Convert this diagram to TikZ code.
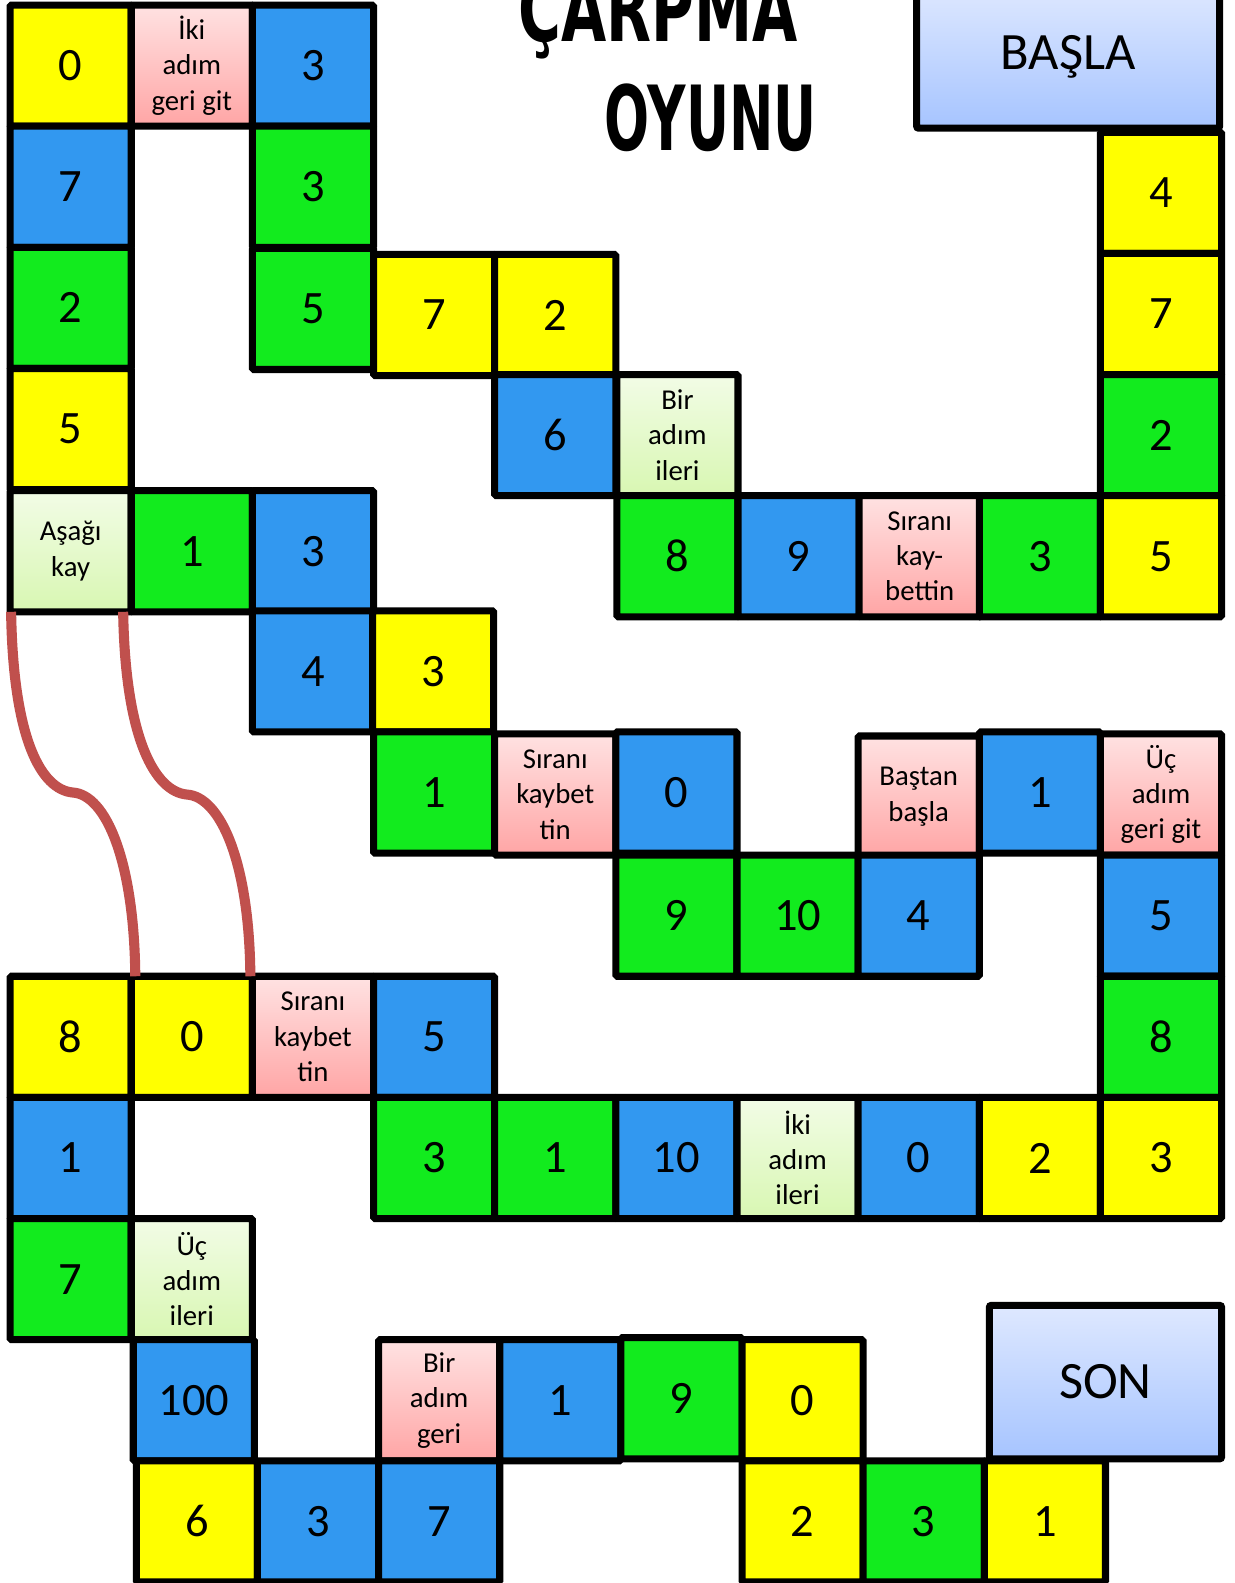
\documentclass[tikz,border=0pt]{standalone}
\usepackage{fontspec}
\usepackage{graphicx}
\setmainfont{Carlito}
\newfontfamily\titlefont{DejaVu Sans}
\definecolor{cY}{RGB}{255,255,0}
\definecolor{cG}{RGB}{18,235,30}
\definecolor{cB}{RGB}{50,152,240}
\definecolor{pkT}{RGB}{255,226,226}
\definecolor{pkB}{RGB}{255,165,165}
\definecolor{lgT}{RGB}{242,252,230}
\definecolor{lgB}{RGB}{216,247,178}
\definecolor{bxT}{RGB}{222,232,255}
\definecolor{bxB}{RGB}{166,196,255}
\definecolor{slide}{RGB}{192,80,77}
\tikzset{
  cell/.style={anchor=north west, draw=black, line width=7pt, minimum width=120pt,
    minimum height=120pt, inner sep=0pt, outer sep=0pt, rounded corners=1.5pt,
    align=center, font=\fontsize{46}{50}\selectfont},
  Y/.style={fill=cY}, G/.style={fill=cG}, B/.style={fill=cB},
  P/.style={top color=pkT, bottom color=pkB, font=\fontsize{28.5}{35}\selectfont},
  L/.style={top color=lgT, bottom color=lgB, font=\fontsize{28.5}{35}\selectfont},
  endbox/.style={anchor=north west, draw=black, line width=7pt, inner sep=0pt, outer sep=0pt,
    rounded corners=2pt, top color=bxT, bottom color=bxB, font=\fontsize{52}{56}\selectfont},
  slider/.style={draw=slide, line width=10pt},
  title/.style={anchor=base, inner sep=0pt, font=\titlefont\bfseries\fontsize{89}{89}\selectfont}
}
\newcommand\cellat[5]{\node[cell,#4] (#1) at (#2,#3) {#5};}
\begin{document}
\begin{tikzpicture}[x=1pt,y=-1pt]
\useasboundingbox (0,0) rectangle (1223,1568);
\fill[white] (0,0) rectangle (1223,1568);
\clip (0,0) rectangle (1223,1568);
% title
\node[title] (t1) at (652,41) {\scalebox{0.65}[1]{ÇARPMA}};
\node[title] (t2) at (704,149) {\scalebox{0.59}[1]{OYUNU}};
% start / end
\node[endbox, minimum width=300pt, minimum height=141pt] (start) at (908,-14) {BAŞLA};
\node[endbox, minimum width=230pt, minimum height=152pt] (son) at (980,1293) {SON};
% row 0
\cellat{a0}{10}{5}{Y}{0}
\cellat{a1}{130}{5}{P}{İki\\adım\\geri git}
\cellat{a2}{250}{5}{B}{3}
% row 1
\cellat{b0}{10}{125}{B}{7}
\cellat{b2}{250}{125}{G}{3}
% row 2
\cellat{c0}{10}{245}{G}{2}
\cellat{c2}{250}{246}{G}{5}
\cellat{c3}{370}{252}{Y}{7}
\cellat{c4}{490}{252}{Y}{2}
% row 3
\cellat{d0}{10}{365}{Y}{5}
\cellat{d4}{490}{371}{B}{6}
\cellat{d5}{611}{371}{L}{Bir\\adım\\ileri}
% right column
\cellat{r1}{1090}{131}{Y}{4}
\cellat{r2}{1090}{251}{Y}{7}
\cellat{r3}{1090}{371}{G}{2}
% row 4
\cellat{kay}{10}{486}{L}{Aşağı\\kay}
\cellat{e1}{130}{486}{G}{1}
\cellat{e2}{250}{486}{B}{3}
\cellat{e5}{611}{491}{G}{8}
\cellat{e6}{731}{491}{B}{9}
\cellat{e7}{851}{491}{P}{Sıranı\\kay-\\bettin}
\cellat{e8}{970}{491}{G}{3}
\cellat{e9}{1090}{491}{Y}{5}
% row 5
\cellat{f2}{250}{605}{B}{4}
\cellat{f3}{369}{605}{Y}{3}
% row 6
\cellat{g3}{370}{725}{G}{1}
\cellat{g4}{490}{727}{P}{Sıranı\\kaybet\\tin}
\cellat{g5}{610}{725}{B}{0}
\cellat{g7}{850}{729}{P}{Baştan\\başla}
\cellat{g8}{970}{725}{B}{1}
\cellat{g9}{1090}{727}{P}{Üç\\adım\\geri git}
% row 7
\cellat{h5}{610}{847}{G}{9}
\cellat{h6}{730}{847}{G}{10}
\cellat{h7}{850}{847}{B}{4}
\cellat{h9}{1090}{847}{B}{5}
% row 8
\cellat{i0}{10}{967}{Y}{8}
\cellat{i1}{130}{967}{Y}{0}
\cellat{i2}{250}{967}{P}{Sıranı\\kaybet\\tin}
\cellat{i3}{370}{967}{B}{5}
\cellat{i9}{1090}{967}{G}{8}
% row 9
\cellat{j0}{10}{1087}{B}{1}
\cellat{j3}{370}{1087}{G}{3}
\cellat{j4}{490}{1087}{G}{1}
\cellat{j5}{610}{1087}{B}{10}
\cellat{j6}{730}{1087}{L}{İki\\adım\\ileri}
\cellat{j7}{850}{1087}{B}{0}
\cellat{j8}{970}{1087}{Y}{2}
\cellat{j9}{1090}{1087}{Y}{3}
% row 10
\cellat{k0}{10}{1207}{G}{7}
\cellat{k1}{130}{1207}{L}{Üç\\adım\\ileri}
% row 11
\cellat{l1}{132}{1327}{B}{100}
\cellat{l3}{375}{1327}{P}{Bir\\adım\\geri}
\cellat{l4}{495}{1327}{B}{1}
\cellat{l5}{615}{1325}{G}{9}
\cellat{l6}{735}{1327}{Y}{0}
% row 12
\cellat{m1}{135}{1447}{Y}{6}
\cellat{m2}{255}{1447}{B}{3}
\cellat{m3}{375}{1447}{B}{7}
\cellat{m6}{735}{1447}{Y}{2}
\cellat{m7}{855}{1447}{G}{3}
\cellat{m8}{975}{1447}{Y}{1}
% slides
\draw[slider] ([xshift=1pt]kay.south west) .. controls +(2,127) and +(-31,-3) .. ++(61,179)
   .. controls +(33,2) and +(-1,-114) .. ([xshift=4pt]i0.north east);
\draw[slider] ([xshift=-8pt]kay.south east) .. controls +(2,127) and +(-31,-3) .. ++(63,181)
   .. controls +(33,2) and +(-1,-114) .. ([xshift=-2pt]i1.north east);
\end{tikzpicture}
\end{document}
